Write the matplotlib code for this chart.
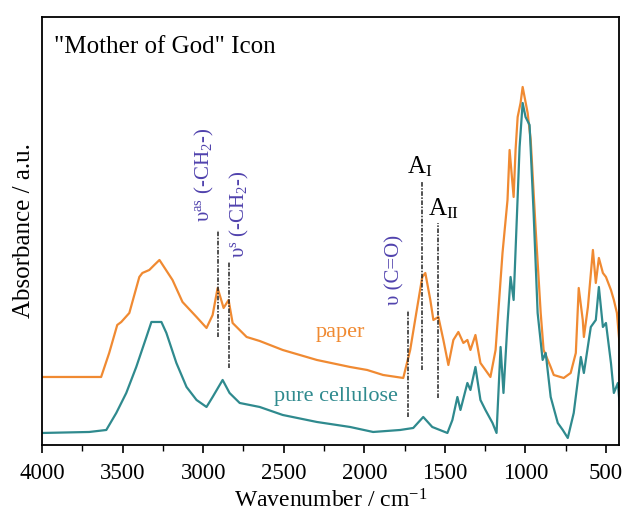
import numpy as np
import matplotlib
matplotlib.use("Agg")
import matplotlib.pyplot as plt

plt.rcParams['font.family'] = ['Liberation Serif', 'DejaVu Serif']
plt.rcParams['mathtext.fontset'] = 'custom'
plt.rcParams['mathtext.rm'] = 'Liberation Serif'
plt.rcParams['mathtext.it'] = 'Liberation Serif:italic'

# spectra (wavenumber in cm-1, absorbance in a.u.)
paper_wn = [4000, 3832, 3633, 3583, 3533, 3508, 3458, 3396, 3377, 3334, 3303, 3271,
            3190, 3128, 3041, 2979, 2941, 2910, 2873, 2842, 2817, 2730, 2649, 2506,
            2294, 2088, 1982, 1883, 1758, 1715, 1671, 1640, 1621, 1590, 1571, 1540,
            1509, 1478, 1447, 1416, 1385, 1360, 1341, 1310, 1279, 1217, 1185, 1142,
            1111, 1098, 1073, 1061, 1048, 1030, 1017, 986, 967, 936, 905, 887, 843,
            824, 762, 719, 687, 669, 644, 637, 612, 581, 563, 544, 519, 500, 469,
            451, 432, 407]
paper_abs = [0.68, 0.68, 0.68, 0.92, 1.20, 1.23, 1.32, 1.68, 1.72, 1.75, 1.80, 1.85,
             1.65, 1.43, 1.28, 1.17, 1.30, 1.57, 1.37, 1.45, 1.22, 1.08, 1.04, 0.95,
             0.85, 0.78, 0.75, 0.70, 0.67, 0.95, 1.38, 1.68, 1.72, 1.45, 1.25, 1.28,
             1.05, 0.80, 1.05, 1.13, 1.02, 1.05, 0.95, 1.10, 0.82, 0.68, 0.95, 1.92,
             2.45, 2.95, 2.48, 2.95, 3.28, 3.42, 3.58, 3.32, 3.05, 2.15, 1.32, 0.95, 0.78,
             0.70, 0.67, 0.72, 0.92, 1.57, 1.25, 1.08, 1.38, 1.95, 1.62, 1.87, 1.72, 1.68, 1.55,
             1.45, 1.32, 0.85]

cell_wn = [4000, 3707, 3601, 3539, 3477, 3415, 3352, 3321, 3259, 3228, 3166, 3103,
           3041, 2979, 2941, 2879, 2836, 2773, 2649, 2506, 2294, 2088, 1945, 1777,
           1696, 1634, 1578, 1484, 1453, 1422, 1403, 1360, 1341, 1310, 1279, 1248,
           1204, 1179, 1154, 1136, 1111, 1092, 1073, 1048, 1036, 1017, 999, 974, 949,
           924, 893, 874, 843, 799, 768, 737, 700, 656, 637, 594, 563, 544, 519, 500,
           469, 451, 426, 407]
cell_abs = [0.12, 0.13, 0.15, 0.32, 0.52, 0.78, 1.08, 1.23, 1.23, 1.12, 0.82, 0.58,
            0.45, 0.38, 0.48, 0.65, 0.52, 0.42, 0.38, 0.30, 0.23, 0.18, 0.13, 0.15,
            0.17, 0.28, 0.18, 0.12, 0.25, 0.48, 0.35, 0.62, 0.55, 0.78, 0.45, 0.35,
            0.22, 0.12, 0.98, 0.52, 1.22, 1.68, 1.45, 2.48, 2.98, 3.42, 3.28, 3.20, 2.32,
            1.32, 0.85, 0.92, 0.48, 0.22, 0.15, 0.07, 0.32, 0.88, 0.72, 1.18, 1.25, 1.58,
            1.18, 1.22, 0.82, 0.52, 0.62, 0.25]

# band markers: wavenumber, bottom, top
band_wn = [2910, 2838, 1727, 1640, 1540]
band_lo = [1.08, 0.77, 0.28, 0.75, 0.47]
band_hi = [2.15, 1.83, 1.35, 2.63, 2.22]

orange = '#f08a32'
teal = '#2f8a8e'
purple = '#5042ad'

fig = plt.figure(figsize=(6.24, 5.13), dpi=100)
ax = fig.add_axes([0.0673, 0.1326, 0.9247, 0.8343])

ax.plot(paper_wn, paper_abs, color=orange, lw=1.6)
ax.plot(cell_wn, cell_abs, color=teal, lw=1.6)

for w, lo, hi in zip(band_wn, band_lo, band_hi):
    ax.plot([w, w], [lo, hi], color='#222222', lw=1.1, ls=(0, (3, 1, 1, 1)))

ax.text(2990, 2.23, r'υ$^{\mathrm{as}}$ (-CH$_2$-)', rotation=90, ha='center',
        va='bottom', color=purple, fontsize=15)
ax.text(2773, 1.87, r'υ$^{\mathrm{s}}$ (-CH$_2$-)', rotation=90, ha='center',
        va='bottom', color=purple, fontsize=15)
ax.text(1808, 1.40, 'υ (C=O)', rotation=90, ha='center', va='bottom',
        color=purple, fontsize=15)
ax.text(1733, 2.72, r'A$_\mathrm{I}$', fontsize=18, ha='left', va='baseline')
ax.text(1603, 2.30, r'A$_\mathrm{II}$', fontsize=18, ha='left', va='baseline')
ax.text(2151, 1.12, 'paper', color=orange, fontsize=16, ha='center', va='center')
ax.text(2175, 0.48, 'pure cellulose', color=teal, fontsize=16, ha='center', va='center')
ax.text(3925, 3.92, '"Mother of God" Icon', fontsize=18, ha='left', va='baseline')

ax.set_xlim(4000, 419)
ax.set_ylim(0, 4.28)
ax.set_xticks([4000, 3500, 3000, 2500, 2000, 1500, 1000, 500])
ax.set_xticks(np.arange(3750, 400, -500), minor=True)
ax.tick_params(axis='x', which='major', direction='out', length=6, width=1.2,
               labelsize=16.5, pad=7)
ax.tick_params(axis='x', which='minor', direction='out', length=4, width=1.0)
ax.set_yticks([])
for s in ax.spines.values():
    s.set_linewidth(1.3)

ax.set_xlabel(r'Wavenumber / cm$^{\mathrm{-1}}$', fontsize=17, labelpad=4)
ax.set_ylabel('Absorbance / a.u.', fontsize=18, labelpad=5)

fig.savefig('out.png', dpi=100)
